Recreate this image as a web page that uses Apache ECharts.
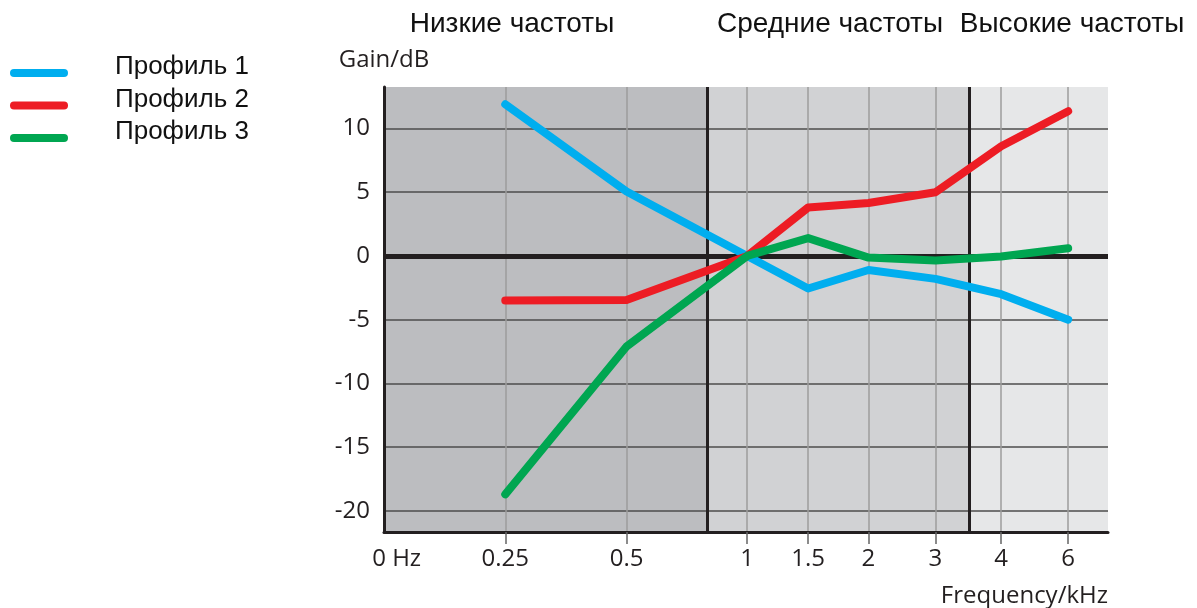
<!DOCTYPE html>
<html>
<head>
<meta charset="utf-8">
<script src="https://cdn.jsdelivr.net/npm/echarts@6/dist/echarts.min.js"></script>
<style>
  html, body { margin: 0; padding: 0; background: #fff; }
  #chart { width: 1197px; height: 608px; }
</style>
</head>
<body>
<div id="chart"></div>
<script>
// x labels and where they sit on the (non uniform) frequency axis
const freqLabels = ['0 Hz', '0.25', '0.5', '1', '1.5', '2', '3', '4', '6'];
const freqPos = [0.21, 2.01, 4.02, 6.02, 7.03, 8.03, 9.14, 10.23, 11.34];
const gainTicks = [-20, -15, -10, -5, 0, 5, 10];

// gain in dB at 0.25 ... 6 kHz
const profile1 = [11.9, 5.05, 0, -2.55, -1.1, -1.8, -3.0, -5.0];
const profile2 = [-3.5, -3.45, 0, 3.8, 4.15, 5.0, 8.6, 11.35];
const profile3 = [-18.7, -7.1, 0, 1.4, -0.13, -0.35, -0.05, 0.6];
const seriesNames = ['Профиль 1', 'Профиль 2', 'Профиль 3'];

// frequency bands
const bandNames = ['Низкие частоты', 'Средние частоты', 'Высокие частоты'];
const bandEdges = [0, 5.35, 9.70, 12];

const colors = ['#00aeef', '#ed1c24', '#00a651'];
const bandColors = ['#bcbdc0', '#d1d2d4', '#e6e7e8'];
const bandTitleX = [512, 830, 1072];

const toPoints = arr => arr.map((v, i) => [freqPos[i + 1], v]);

const lineSeries = [profile1, profile2, profile3].map((arr, i) => ({
  name: seriesNames[i],
  type: 'line',
  data: toPoints(arr),
  symbol: 'none',
  color: colors[i],
  z: 2,
  lineStyle: { width: 8, color: colors[i], cap: 'round', join: 'round' }
}));

const chart = echarts.init(document.getElementById('chart'));
chart.setOption({
  animation: false,
  graphic: bandNames.map((t, i) => ({
    type: 'text',
    x: bandTitleX[i],
    y: 24,
    style: {
      text: t,
      font: '28px "Liberation Sans", Arial, sans-serif',
      fill: '#111',
      align: 'center',
      verticalAlign: 'middle'
    }
  })),
  legend: {
    data: seriesNames,
    orient: 'vertical',
    left: 10,
    top: 54,
    padding: 0,
    itemGap: 6.5,
    itemWidth: 58,
    itemHeight: 8,
    icon: 'path://M4,0 L54,0 A4,4 0 0 1 54,8 L4,8 A4,4 0 0 1 4,0 Z',
    formatter: name => '{n|' + name + '}',
    textStyle: {
      rich: {
        n: {
          fontFamily: '"Liberation Sans", Arial, sans-serif',
          fontSize: 26,
          color: '#111',
          padding: [0, 0, 12, 42]
        }
      }
    }
  },
  grid: { left: 384, right: 89, top: 87, bottom: 76 },
  xAxis: {
    type: 'value',
    min: 0,
    max: 12,
    z: 1.5,
    name: 'Frequency/kHz',
    nameLocation: 'end',
    nameGap: 0,
    nameTextStyle: {
      fontFamily: '"Open Sans", sans-serif',
      fontSize: 24,
      color: '#231f20',
      align: 'right',
      verticalAlign: 'top',
      padding: [52, 0, 0, 0]
    },
    axisLine: { onZero: false, lineStyle: { color: '#231f20', width: 3 } },
    axisTick: {
      show: true,
      length: 12,
      customValues: freqPos.slice(1),
      lineStyle: { color: '#666', width: 1.5 }
    },
    axisLabel: {
      customValues: freqPos,
      margin: 15,
      fontFamily: '"Open Sans", sans-serif',
      fontSize: 24,
      color: '#231f20',
      formatter: v => freqLabels[freqPos.indexOf(v)]
    },
    splitLine: { show: true, lineStyle: { color: '#9d9d9d', width: 1.5 } }
  },
  yAxis: {
    type: 'value',
    min: -21.65,
    max: 13.25,
    z: 1.5,
    name: 'Gain/dB',
    nameLocation: 'end',
    nameGap: 27,
    nameTextStyle: {
      fontFamily: '"Open Sans", sans-serif',
      fontSize: 24,
      color: '#231f20',
      align: 'center',
      verticalAlign: 'middle'
    },
    axisLine: { show: true, onZero: false, lineStyle: { color: '#231f20', width: 3 } },
    axisTick: { show: false, customValues: gainTicks },
    axisLabel: {
      customValues: gainTicks,
      margin: 14,
      fontFamily: '"Open Sans", sans-serif',
      fontSize: 24,
      color: '#231f20'
    },
    splitLine: { show: true, lineStyle: { color: '#4d4d4d', width: 1.5 } }
  },
  series: [
    {
      type: 'line',
      data: [],
      silent: true,
      markArea: {
        silent: true,
        z: 1,
        data: bandColors.map((c, i) => [
          { xAxis: bandEdges[i], itemStyle: { color: c } },
          { xAxis: bandEdges[i + 1] }
        ])
      },
      markLine: {
        silent: true,
        z: 1.8,
        symbol: 'none',
        label: { show: false },
        data: [
          { xAxis: bandEdges[1], lineStyle: { color: '#231f20', width: 3, type: 'solid' } },
          { xAxis: bandEdges[2], lineStyle: { color: '#231f20', width: 3, type: 'solid' } },
          { yAxis: 0, lineStyle: { color: '#231f20', width: 5, type: 'solid' } }
        ]
      }
    }
  ].concat(lineSeries)
});
</script>
</body>
</html>
